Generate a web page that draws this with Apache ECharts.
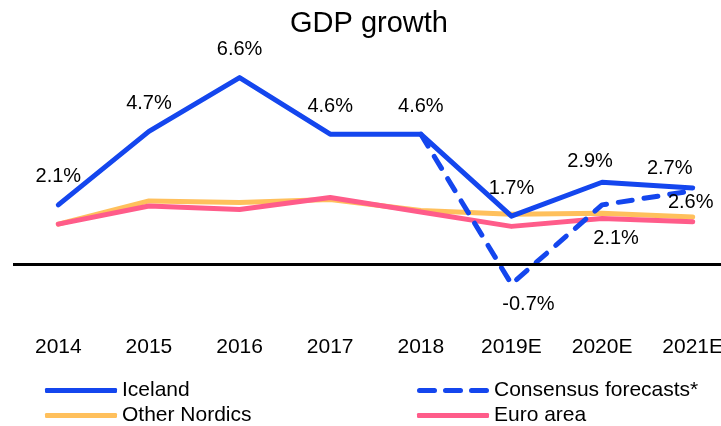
<!DOCTYPE html>
<html><head><meta charset="utf-8">
<script src="https://cdn.jsdelivr.net/npm/echarts@6/dist/echarts.min.js"></script>
<style>html,body{margin:0;padding:0;background:#fff;overflow:hidden}#c{width:738px;height:446px}</style>
</head><body><div id="c"></div>
<script>
const categories = ['2014','2015','2016','2017','2018','2019E','2020E','2021E'];
const iceland = [2.1, 4.7, 6.6, 4.6, 4.6, 1.7, 2.9, 2.7];
const consensus = ['-', '-', '-', '-', 4.6, -0.7, 2.1, 2.6];
const otherNordics = [1.42, 2.24, 2.18, 2.29, 1.9, 1.77, 1.8, 1.67];
const euroArea = [1.42, 2.06, 1.94, 2.36, 1.85, 1.34, 1.62, 1.5];

const FONT = 'Liberation Sans, Arial, sans-serif';
const fmt = v => v.toFixed(1) + '%';

// label placement tweaks (distance above/below, horizontal shift)
const icelandLabelPos = [[18,0],[18,0],[18,0],[18,0],[18,0],[18,0],[11,-12],[9,-23]];
const consensusLabelPos = [null,null,null,null,null,[10,17],[24,14],[2,-2]];

const icelandData = iceland.map((v, i) => ({
  value: v,
  label: { show: true, position: 'top', distance: icelandLabelPos[i][0],
    offset: [icelandLabelPos[i][1], 0], formatter: fmt(v) }
}));
const consensusData = consensus.map((v, i) => {
  if (v === '-') return '-';
  const p = consensusLabelPos[i];
  if (!p) return { value: v, label: { show: false } };
  return { value: v, label: { show: true, position: 'bottom', distance: p[0], offset: [p[1], 0], formatter: fmt(v) } };
});

const lblStyle = { color: '#000', fontSize: 20, fontFamily: FONT };
const chart = echarts.init(document.getElementById('c'), null, { renderer: 'canvas' });
chart.setOption({
  animation: false,
  textStyle: { fontFamily: FONT },
  title: { text: 'GDP growth', left: 285, top: 4,
    textStyle: { fontFamily: FONT, fontSize: 29, fontWeight: 'normal', color: '#000' } },
  grid: { left: 13, right: 0, top: 38, height: 297 },
  xAxis: { type: 'category', data: categories, boundaryGap: true,
    axisLine: { show: false }, axisTick: { show: false }, splitLine: { show: false },
    axisLabel: { color: '#000', fontSize: 21, fontFamily: FONT, margin: 2, interval: 0 } },
  yAxis: { type: 'value', min: -2.5, max: 8, show: false },
  legend: [
    { left: 45, top: 380, orient: 'vertical', padding: 0, itemWidth: 72, itemHeight: 5, itemGap: 4,
      textStyle: { fontSize: 21, color: '#000', fontFamily: FONT },
      data: [{ name: 'Iceland', icon: 'roundRect' }, { name: 'Other Nordics', icon: 'roundRect' }] },
    { left: 417, top: 380, orient: 'vertical', padding: 0, itemWidth: 72, itemHeight: 5, itemGap: 4,
      textStyle: { fontSize: 21, color: '#000', fontFamily: FONT },
      data: [{ name: 'Consensus forecasts*', icon: 'path://M2.5,0h15a2.5,2.5 0 0 1 0,5h-15a2.5,2.5 0 0 1 0,-5z M28.5,0h15a2.5,2.5 0 0 1 0,5h-15a2.5,2.5 0 0 1 0,-5z M54.5,0h15a2.5,2.5 0 0 1 0,5h-15a2.5,2.5 0 0 1 0,-5z' },
             { name: 'Euro area', icon: 'roundRect' }] }
  ],
  series: [
    { name: 'Other Nordics', type: 'line', data: otherNordics, symbol: 'circle', symbolSize: 0, z: 2,
      lineStyle: { color: '#FFC05C', width: 5, cap: 'round', join: 'round' }, itemStyle: { color: '#FFC05C' },
      markLine: { silent: true, symbol: 'none', label: { show: false },
        lineStyle: { color: '#000', width: 3, type: 'solid' }, data: [{ yAxis: 0 }] } },
    { name: 'Euro area', type: 'line', data: euroArea, symbol: 'circle', symbolSize: 0, z: 3,
      lineStyle: { color: '#FF5C8A', width: 5, cap: 'round', join: 'round' }, itemStyle: { color: '#FF5C8A' } },
    { name: 'Consensus forecasts*', type: 'line', data: consensusData, symbol: 'circle', symbolSize: 0, z: 4,
      lineStyle: { color: '#1446EE', width: 5, type: [14, 12], cap: 'round', join: 'round' }, itemStyle: { color: '#1446EE' },
      label: lblStyle },
    { name: 'Iceland', type: 'line', data: icelandData, symbol: 'circle', symbolSize: 0, z: 5,
      lineStyle: { color: '#1446EE', width: 5, cap: 'round', join: 'round' }, itemStyle: { color: '#1446EE' },
      label: lblStyle }
  ]
});
</script></body></html>
